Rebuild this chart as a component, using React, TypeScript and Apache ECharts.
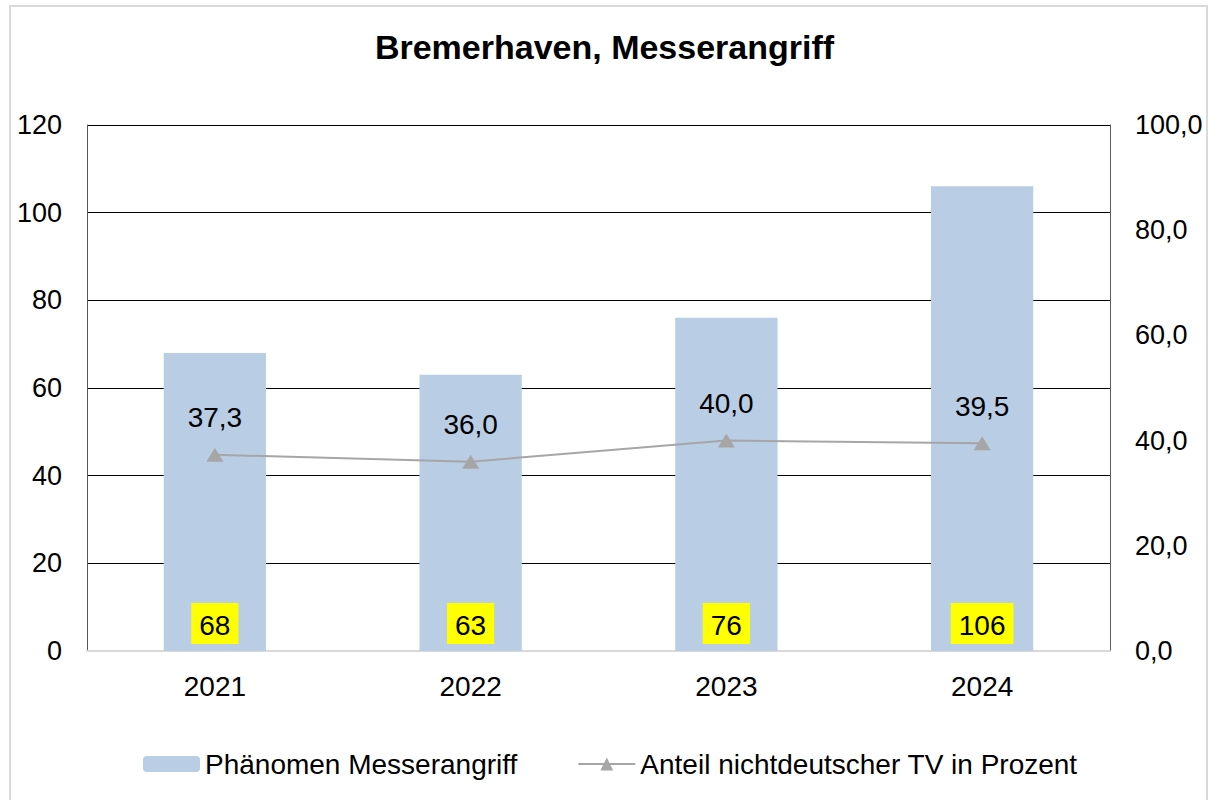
import React, { useEffect, useRef } from "react";
import * as echarts from "echarts";

const years = ["2021", "2022", "2023", "2024"];
const cases = [68, 63, 76, 106];
const shareForeign = [37.3, 36.0, 40.0, 39.5];
const leftTicks = { min: 0, max: 120, interval: 20 };
const rightTicks = { min: 0, max: 100, interval: 20 };

const FONT = "Liberation Sans, Arial, sans-serif";

export default function App() {
  const ref = useRef<HTMLDivElement>(null);
  useEffect(() => {
    const chart = echarts.init(ref.current!, null, { renderer: "svg" });
    chart.setOption({
      animation: false,
      backgroundColor: "#ffffff",
      textStyle: { fontFamily: FONT },
      title: {
        text: "Bremerhaven, Messerangriff",
        left: "center",
        top: 25,
        textStyle: { fontFamily: FONT, fontSize: 34, fontWeight: "bold", color: "#000" },
      },
      graphic: [
        {
          type: "rect",
          shape: { x: 10, y: 6, width: 1197, height: 800 },
          style: { fill: "none", stroke: "#d9d9d9", lineWidth: 2 },
          silent: true,
        },
      ],
      legend: {
        left: 138,
        top: 745,
        itemWidth: 57,
        itemHeight: 16,
        itemGap: 60,
        textStyle: { fontFamily: FONT, fontSize: 28, color: "#000" },
        data: [
          { name: "Phänomen Messerangriff" },
          { name: "Anteil nichtdeutscher TV in Prozent" },
        ],
      },
      grid: { left: 87, right: 99, top: 125, bottom: 149 },
      xAxis: {
        type: "category",
        data: years,
        axisLine: { show: true, lineStyle: { color: "#d9d9d9", width: 2 } },
        axisTick: { show: false },
        axisLabel: { fontFamily: FONT, fontSize: 28, color: "#000", margin: 21 },
      },
      yAxis: [
        {
          type: "value",
          ...leftTicks,
          axisLine: { show: true, lineStyle: { color: "#595959", width: 1 } },
          axisTick: { show: false },
          splitLine: { show: true, lineStyle: { color: "#000", width: 1 } },
          axisLabel: { fontFamily: FONT, fontSize: 27, color: "#000", margin: 25 },
        },
        {
          type: "value",
          ...rightTicks,
          position: "right",
          axisLine: { show: true, lineStyle: { color: "#595959", width: 1 } },
          axisTick: { show: false },
          splitLine: { show: false },
          axisLabel: {
            fontFamily: FONT,
            fontSize: 27,
            color: "#000",
            margin: 25,
            formatter: (v: number) => v.toFixed(1).replace(".", ","),
          },
        },
      ],
      series: [
        {
          name: "Phänomen Messerangriff",
          type: "bar",
          data: cases,
          barWidth: "40%",
          itemStyle: { color: "#b9cde5" },
          label: {
            show: true,
            position: "insideBottom",
            distance: 7,
            fontFamily: FONT,
            fontSize: 28,
            color: "#000",
            backgroundColor: "#ffff00",
            padding: [8, 8, 5, 8],
          },
        },
        {
          name: "Anteil nichtdeutscher TV in Prozent",
          type: "line",
          yAxisIndex: 1,
          data: shareForeign,
          symbol: "triangle",
          symbolSize: [17, 14],
          lineStyle: { color: "#a6a6a6", width: 2 },
          itemStyle: { color: "#a6a6a6" },
          label: {
            show: true,
            position: "top",
            distance: 16,
            fontFamily: FONT,
            fontSize: 28,
            color: "#000",
            formatter: (p: any) => Number(p.value).toFixed(1).replace(".", ","),
          },
        },
      ],
    });
    return () => chart.dispose();
  }, []);
  return (
    <div
      ref={ref}
      style={{ position: "fixed", left: 0, top: 0, width: 1209, height: 800 }}
    />
  );
}
